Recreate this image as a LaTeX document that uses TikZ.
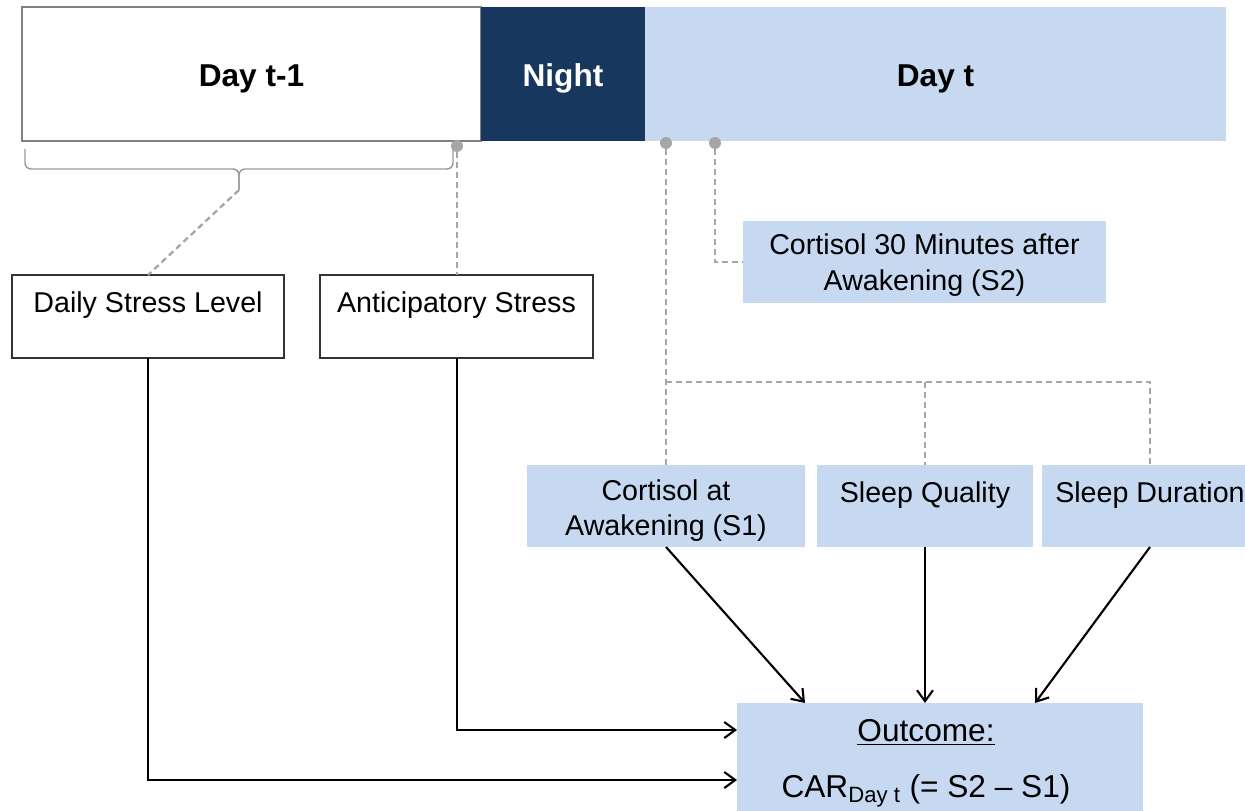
\documentclass[tikz,border=0pt]{standalone}
\usepackage{fontspec}
\setmainfont{Liberation Sans}
\usepackage{xcolor}
\usetikzlibrary{calc,arrows.meta}

\definecolor{lightblue}{HTML}{C6D9F1}
\definecolor{navy}{HTML}{17375E}
\definecolor{dashgray}{HTML}{A6A6A6}

% text lowered a little inside its box, box size unchanged
\newcommand{\boxtext}[2][0.12cm]{\raisebox{-#1}[\height][\depth]{\begin{tabular}{@{}c@{}}#2\end{tabular}}}

\tikzset{
  box/.style={inner sep=0pt, outer sep=0pt,
    font=\fontsize{16.3}{20}\selectfont},
  bluebox/.style={box, fill=lightblue},
  whitebox/.style={box, draw=black!80, line width=0.7pt, fill=white},
  dayhead/.style={inner sep=0pt, outer sep=0pt, minimum height=2.68cm,
    font=\fontsize{18}{22}\selectfont\bfseries},
  link/.style={dashgray, line width=1.3pt, dash pattern=on 0.12cm off 0.08cm},
  dot/.style={circle, fill=dashgray, inner sep=0pt, minimum size=0.24cm},
  flow/.style={-{Straight Barb[length=0.22cm, width=0.32cm]}, line width=1.2pt, black}
}

\begin{document}
\begin{tikzpicture}[x=0.02cm, y=-0.02cm]
  \clip (0,0) rectangle (1245,811);
  \fill[white] (0,0) rectangle (1245,811);

  % timeline
  \node[dayhead, draw=black!50, line width=0.7pt, minimum width=9.18cm] (dayprev) at (251.5,74) {\boxtext[0.1cm]{Day t-1}};
  \node[dayhead, fill=navy, text=white, minimum width=3.28cm] (night) at (563,74) {\boxtext[0.1cm]{Night}};
  \node[dayhead, fill=lightblue, minimum width=11.62cm] (daynow) at (935.5,74) {\boxtext[0.1cm]{Day t}};

  % brace under day t-1
  \draw[black!40, line width=0.8pt, rounded corners=0.12cm] (25,149) -- (25,169) -- (239,169) -- (239,190);
  \draw[black!40, line width=0.8pt, rounded corners=0.12cm] (453,149) -- (453,169) -- (239,169) -- (239,190);
  \coordinate (bracetip) at (239,190);

  \node[dot] (eveningdot) at (457,146) {};
  \node[dot] (wakedot) at (666,143) {};
  \node[dot] (laterdot) at (715,143) {};

  % stress boxes
  \node[whitebox, minimum width=5.44cm, minimum height=1.66cm] (daily) at (148,316.5)
    {\boxtext[0.14cm]{Daily Stress Level\\ \strut}};
  \node[whitebox, minimum width=5.46cm, minimum height=1.66cm] (anticip) at (456.5,316.5)
    {\boxtext[0.14cm]{Anticipatory Stress\\ \strut}};

  % morning measures
  \node[bluebox, minimum width=7.26cm, minimum height=1.64cm] (cortsecond) at (924.5,262)
    {\boxtext[0.07cm]{Cortisol 30 Minutes after\\Awakening (S2)}};
  \node[bluebox, minimum width=5.56cm, minimum height=1.64cm] (cortfirst) at (666,506)
    {\boxtext[0.1cm]{Cortisol at\\Awakening (S1)}};
  \node[bluebox, minimum width=4.34cm, minimum height=1.64cm] (quality) at (925,506)
    {\boxtext[0.14cm]{Sleep Quality\\ \strut}};
  \node[bluebox, minimum width=4.32cm, minimum height=1.64cm] (duration) at (1150,506)
    {\boxtext[0.14cm]{Sleep Duration\\ \strut}};

  % outcome
  \node[bluebox, minimum width=8.12cm, minimum height=2.54cm] (outcome) at (940,766.5) {};
  \node[inner sep=0pt, align=center, font=\fontsize{18}{32}\selectfont] (outtext) at (926,763)
    {\underline{Outcome:}\\CAR\textsubscript{Day t} (= S2 -- S1)};

  % dashed links
  \draw[link] (bracetip) -- (daily.north);
  \draw[link] (eveningdot) -- (eveningdot |- anticip.north);
  \draw[link] (laterdot) |- (cortsecond.west);
  \coordinate (junction) at (666,382);
  \draw[link] (wakedot) -- (cortfirst.north);
  \draw[link] (junction) -| (duration.north);
  \draw[link] (quality.north |- junction) -- (quality.north);

  % arrows to outcome
  \draw[flow] (cortfirst.south) -- ($(outcome.north west)+(68,0)$);
  \draw[flow] (quality.south) -- (quality.south |- outcome.north);
  \draw[flow] (duration.south) -- ($(outcome.north west)+(298,0)$);
  \draw[flow] (anticip.south -| eveningdot) |- ($(outcome.north west)+(0,27)$);
  \draw[flow] (daily.south) |- ($(outcome.north west)+(0,77)$);
\end{tikzpicture}
\end{document}
